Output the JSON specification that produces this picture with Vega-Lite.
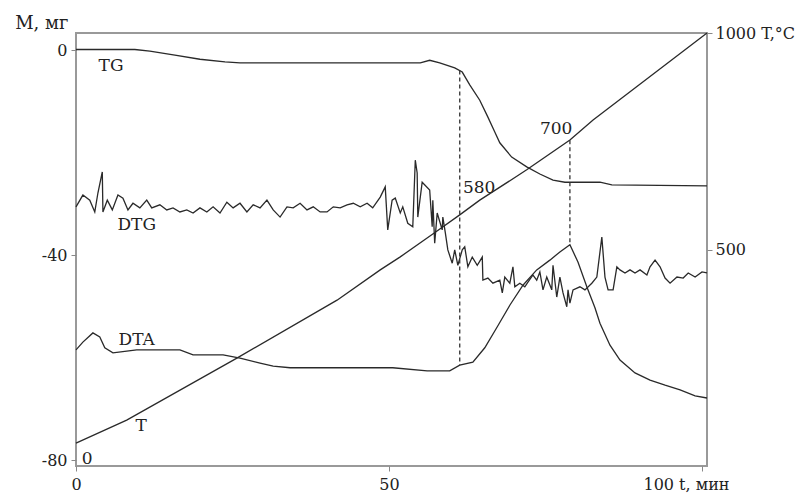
{
  "$schema": "https://vega.github.io/schema/vega-lite/v6.json",
  "autosize": "none",
  "width": 631,
  "height": 433,
  "padding": {"left": 76, "top": 33, "right": 100, "bottom": 29},
  "background": "white",
  "config": {
    "view": {"stroke": "#999", "strokeWidth": 2},
    "axis": {"grid": false, "domain": false, "labelFont": "DejaVu Serif", "labelFontSize": 16, "labelColor": "#222", "tickColor": "#888", "tickSize": 5, "labelFlush": false, "titleFont": "DejaVu Serif", "titleFontSize": 18, "titleFontWeight": "normal", "titleColor": "#222"}
  },
  "datasets": {
    "mass": [
      {"s": "TG", "t": 0, "m": 0.1}, {"s": "TG", "t": 9.4, "m": 0.1}, {"s": "TG", "t": 11.8, "m": -0.2}, {"s": "TG", "t": 15.8, "m": -1.0}, {"s": "TG", "t": 19.8, "m": -1.8}, {"s": "TG", "t": 23.8, "m": -2.3}, {"s": "TG", "t": 26.2, "m": -2.5}, {"s": "TG", "t": 55.0, "m": -2.5}, {"s": "TG", "t": 56.5, "m": -2.0}, {"s": "TG", "t": 58.1, "m": -2.5}, {"s": "TG", "t": 60.5, "m": -3.5}, {"s": "TG", "t": 61.7, "m": -4.3}, {"s": "TG", "t": 62.9, "m": -6.8}, {"s": "TG", "t": 64.5, "m": -9.8}, {"s": "TG", "t": 65.8, "m": -13.1}, {"s": "TG", "t": 66.9, "m": -16.0}, {"s": "TG", "t": 67.7, "m": -18.1}, {"s": "TG", "t": 69.6, "m": -20.9}, {"s": "TG", "t": 72.0, "m": -22.8}, {"s": "TG", "t": 74.1, "m": -24.2}, {"s": "TG", "t": 76.2, "m": -25.4}, {"s": "TG", "t": 78.1, "m": -25.8}, {"s": "TG", "t": 83.7, "m": -25.8}, {"s": "TG", "t": 85.6, "m": -26.3}, {"s": "TG", "t": 100.8, "m": -26.5},

      {"s": "DTG", "t": 0, "m": -30.6}, {"s": "DTG", "t": 1.1, "m": -28.3}, {"s": "DTG", "t": 2.2, "m": -29.3}, {"s": "DTG", "t": 3.0, "m": -31.6}, {"s": "DTG", "t": 3.5, "m": -27.9}, {"s": "DTG", "t": 4.2, "m": -23.8}, {"s": "DTG", "t": 4.3, "m": -31.6}, {"s": "DTG", "t": 5.0, "m": -29.3}, {"s": "DTG", "t": 5.8, "m": -31.2}, {"s": "DTG", "t": 6.7, "m": -28.3}, {"s": "DTG", "t": 7.5, "m": -28.9}, {"s": "DTG", "t": 8.3, "m": -31.2}, {"s": "DTG", "t": 9.1, "m": -29.9}, {"s": "DTG", "t": 10.2, "m": -30.8}, {"s": "DTG", "t": 11.3, "m": -29.3}, {"s": "DTG", "t": 12.1, "m": -30.8}, {"s": "DTG", "t": 13.4, "m": -30.2}, {"s": "DTG", "t": 14.5, "m": -31.2}, {"s": "DTG", "t": 15.5, "m": -30.8}, {"s": "DTG", "t": 16.6, "m": -31.6}, {"s": "DTG", "t": 17.7, "m": -31.2}, {"s": "DTG", "t": 18.7, "m": -31.8}, {"s": "DTG", "t": 19.8, "m": -30.8}, {"s": "DTG", "t": 20.9, "m": -31.6}, {"s": "DTG", "t": 21.9, "m": -30.6}, {"s": "DTG", "t": 23.0, "m": -31.8}, {"s": "DTG", "t": 24.1, "m": -29.7}, {"s": "DTG", "t": 25.1, "m": -30.8}, {"s": "DTG", "t": 26.2, "m": -29.9}, {"s": "DTG", "t": 27.3, "m": -31.6}, {"s": "DTG", "t": 28.3, "m": -30.2}, {"s": "DTG", "t": 29.4, "m": -30.8}, {"s": "DTG", "t": 30.5, "m": -29.3}, {"s": "DTG", "t": 31.5, "m": -31.2}, {"s": "DTG", "t": 32.6, "m": -32.6}, {"s": "DTG", "t": 33.7, "m": -30.6}, {"s": "DTG", "t": 34.7, "m": -30.8}, {"s": "DTG", "t": 35.8, "m": -29.9}, {"s": "DTG", "t": 36.9, "m": -31.2}, {"s": "DTG", "t": 37.9, "m": -30.6}, {"s": "DTG", "t": 39.0, "m": -31.6}, {"s": "DTG", "t": 40.1, "m": -31.6}, {"s": "DTG", "t": 41.1, "m": -30.6}, {"s": "DTG", "t": 42.2, "m": -30.8}, {"s": "DTG", "t": 43.3, "m": -30.2}, {"s": "DTG", "t": 44.3, "m": -29.9}, {"s": "DTG", "t": 45.4, "m": -30.6}, {"s": "DTG", "t": 46.5, "m": -29.9}, {"s": "DTG", "t": 47.4, "m": -30.8}, {"s": "DTG", "t": 48.6, "m": -28.7}, {"s": "DTG", "t": 49.4, "m": -26.7}, {"s": "DTG", "t": 49.8, "m": -35.1}, {"s": "DTG", "t": 50.5, "m": -29.3}, {"s": "DTG", "t": 51.0, "m": -28.9}, {"s": "DTG", "t": 51.8, "m": -31.8}, {"s": "DTG", "t": 52.2, "m": -30.6}, {"s": "DTG", "t": 53.0, "m": -33.8}, {"s": "DTG", "t": 53.8, "m": -34.5}, {"s": "DTG", "t": 54.2, "m": -21.5}, {"s": "DTG", "t": 54.5, "m": -24.0}, {"s": "DTG", "t": 54.6, "m": -32.6}, {"s": "DTG", "t": 55.3, "m": -25.8}, {"s": "DTG", "t": 56.5, "m": -27.3}, {"s": "DTG", "t": 56.9, "m": -34.5}, {"s": "DTG", "t": 57.0, "m": -29.3}, {"s": "DTG", "t": 57.3, "m": -37.7}, {"s": "DTG", "t": 57.7, "m": -31.8}, {"s": "DTG", "t": 58.5, "m": -35.1}, {"s": "DTG", "t": 58.6, "m": -32.6}, {"s": "DTG", "t": 59.0, "m": -35.7}, {"s": "DTG", "t": 59.4, "m": -39.0}, {"s": "DTG", "t": 60.1, "m": -41.6}, {"s": "DTG", "t": 60.5, "m": -39.0}, {"s": "DTG", "t": 61.0, "m": -42.0}, {"s": "DTG", "t": 61.7, "m": -39.0}, {"s": "DTG", "t": 62.1, "m": -38.4}, {"s": "DTG", "t": 62.6, "m": -42.3}, {"s": "DTG", "t": 63.3, "m": -40.4}, {"s": "DTG", "t": 64.1, "m": -42.0}, {"s": "DTG", "t": 64.9, "m": -40.4}, {"s": "DTG", "t": 65.0, "m": -44.9}, {"s": "DTG", "t": 65.8, "m": -44.5}, {"s": "DTG", "t": 66.6, "m": -45.5}, {"s": "DTG", "t": 67.7, "m": -44.9}, {"s": "DTG", "t": 68.1, "m": -47.4}, {"s": "DTG", "t": 68.5, "m": -44.3}, {"s": "DTG", "t": 69.3, "m": -45.5}, {"s": "DTG", "t": 69.8, "m": -42.3}, {"s": "DTG", "t": 70.1, "m": -46.2}, {"s": "DTG", "t": 70.9, "m": -45.5}, {"s": "DTG", "t": 71.7, "m": -46.2}, {"s": "DTG", "t": 72.2, "m": -45.3}, {"s": "DTG", "t": 73.0, "m": -43.9}, {"s": "DTG", "t": 73.6, "m": -44.9}, {"s": "DTG", "t": 74.1, "m": -43.3}, {"s": "DTG", "t": 74.6, "m": -46.8}, {"s": "DTG", "t": 75.2, "m": -44.3}, {"s": "DTG", "t": 76.0, "m": -46.8}, {"s": "DTG", "t": 76.2, "m": -42.0}, {"s": "DTG", "t": 76.8, "m": -48.2}, {"s": "DTG", "t": 77.3, "m": -44.3}, {"s": "DTG", "t": 77.8, "m": -47.4}, {"s": "DTG", "t": 78.4, "m": -50.1}, {"s": "DTG", "t": 78.6, "m": -46.8}, {"s": "DTG", "t": 78.9, "m": -49.4}, {"s": "DTG", "t": 79.4, "m": -46.8}, {"s": "DTG", "t": 80.5, "m": -46.2}, {"s": "DTG", "t": 81.3, "m": -46.8}, {"s": "DTG", "t": 82.4, "m": -45.5}, {"s": "DTG", "t": 83.2, "m": -44.3}, {"s": "DTG", "t": 84.0, "m": -36.5}, {"s": "DTG", "t": 84.5, "m": -44.3}, {"s": "DTG", "t": 85.0, "m": -46.8}, {"s": "DTG", "t": 85.8, "m": -46.8}, {"s": "DTG", "t": 86.4, "m": -42.3}, {"s": "DTG", "t": 86.9, "m": -42.9}, {"s": "DTG", "t": 87.7, "m": -43.5}, {"s": "DTG", "t": 88.5, "m": -42.9}, {"s": "DTG", "t": 89.3, "m": -43.5}, {"s": "DTG", "t": 90.1, "m": -42.9}, {"s": "DTG", "t": 91.2, "m": -43.9}, {"s": "DTG", "t": 91.7, "m": -42.3}, {"s": "DTG", "t": 92.5, "m": -41.0}, {"s": "DTG", "t": 93.3, "m": -42.3}, {"s": "DTG", "t": 94.1, "m": -44.5}, {"s": "DTG", "t": 94.9, "m": -45.5}, {"s": "DTG", "t": 96.0, "m": -44.3}, {"s": "DTG", "t": 97.0, "m": -44.5}, {"s": "DTG", "t": 97.8, "m": -43.5}, {"s": "DTG", "t": 98.9, "m": -44.3}, {"s": "DTG", "t": 100.0, "m": -43.3}, {"s": "DTG", "t": 100.8, "m": -43.5},

      {"s": "DTA", "t": 0, "m": -58.5}, {"s": "DTA", "t": 1.1, "m": -57.0}, {"s": "DTA", "t": 2.7, "m": -55.2}, {"s": "DTA", "t": 3.8, "m": -56.0}, {"s": "DTA", "t": 4.6, "m": -58.1}, {"s": "DTA", "t": 5.9, "m": -59.1}, {"s": "DTA", "t": 9.7, "m": -58.5}, {"s": "DTA", "t": 16.6, "m": -58.5}, {"s": "DTA", "t": 18.7, "m": -59.5}, {"s": "DTA", "t": 23.5, "m": -59.5}, {"s": "DTA", "t": 26.2, "m": -60.1}, {"s": "DTA", "t": 29.4, "m": -61.1}, {"s": "DTA", "t": 31.5, "m": -61.7}, {"s": "DTA", "t": 34.2, "m": -62.0}, {"s": "DTA", "t": 50.6, "m": -62.0}, {"s": "DTA", "t": 56.1, "m": -62.6}, {"s": "DTA", "t": 59.7, "m": -62.6}, {"s": "DTA", "t": 61.3, "m": -61.5}, {"s": "DTA", "t": 63.4, "m": -60.9}, {"s": "DTA", "t": 65.3, "m": -58.1}, {"s": "DTA", "t": 67.3, "m": -54.0}, {"s": "DTA", "t": 69.3, "m": -49.8}, {"s": "DTA", "t": 71.4, "m": -45.9}, {"s": "DTA", "t": 73.6, "m": -42.9}, {"s": "DTA", "t": 75.7, "m": -41.0}, {"s": "DTA", "t": 77.3, "m": -39.4}, {"s": "DTA", "t": 78.9, "m": -38.0}, {"s": "DTA", "t": 80.2, "m": -41.4}, {"s": "DTA", "t": 81.6, "m": -46.2}, {"s": "DTA", "t": 82.9, "m": -50.3}, {"s": "DTA", "t": 83.7, "m": -53.3}, {"s": "DTA", "t": 85.3, "m": -57.6}, {"s": "DTA", "t": 86.9, "m": -60.5}, {"s": "DTA", "t": 89.3, "m": -63.0}, {"s": "DTA", "t": 91.7, "m": -64.4}, {"s": "DTA", "t": 94.1, "m": -65.4}, {"s": "DTA", "t": 96.5, "m": -66.3}, {"s": "DTA", "t": 98.9, "m": -67.5}, {"s": "DTA", "t": 100.8, "m": -67.9}
    ],
    "temp": [
      {"t": 0, "T": 53}, {"t": 8.1, "T": 106}, {"t": 25.7, "T": 249}, {"t": 41.7, "T": 383}, {"t": 48.6, "T": 453}, {"t": 51.8, "T": 483}, {"t": 57.0, "T": 536}, {"t": 61.3, "T": 580}, {"t": 64.5, "T": 614}, {"t": 72.0, "T": 684}, {"t": 78.9, "T": 753}, {"t": 82.6, "T": 799}, {"t": 100.8, "T": 1000}
    ],
    "guides": [
      {"t": 61.3, "top": -4.0, "bottom": -61.5},
      {"t": 78.9, "top": -17.6, "bottom": -38.0}
    ],
    "labels": [
      {"t": 5.6, "m": -3.1, "text": "TG"},
      {"t": 9.7, "m": -34.1, "text": "DTG"},
      {"t": 9.7, "m": -56.6, "text": "DTA"},
      {"t": 10.4, "m": -73.4, "text": "T"},
      {"t": 64.4, "m": -26.9, "text": "580"},
      {"t": 76.7, "m": -15.4, "text": "700"},
      {"t": 1.8, "m": -79.8, "text": "0"}
    ]
  },
  "layer": [
    {
      "layer": [
        {
          "data": {"name": "mass"},
          "mark": {"type": "line", "color": "#2a2a2a", "strokeWidth": 1.3},
          "encoding": {
            "x": {"field": "t", "type": "quantitative", "scale": {"domain": [0, 100.8], "nice": false, "zero": false},
              "axis": {"values": [0, 50, 100], "labelPadding": 5, "labelExpr": "datum.value == 100 ? '100 t,  мин' : datum.label", "labelOffset": {"condition": {"test": "datum.value == 100", "value": -16}, "value": 0}, "title": null}},
            "y": {"field": "m", "type": "quantitative", "scale": {"domain": [-81.17, 3.32], "nice": false, "zero": false},
              "axis": {"values": [0, -40, -80], "labelPadding": 4, "labelExpr": "'' + datum.value", "title": "M, мг", "titleAngle": 0, "titleAlign": "right", "titleBaseline": "bottom", "titleX": -8, "titleY": -1}},
            "detail": {"field": "s"},
            "order": {"field": "t", "type": "quantitative"}
          }
        },
        {
          "data": {"name": "guides"},
          "mark": {"type": "rule", "color": "#333", "strokeWidth": 1.3, "strokeDash": [4, 3]},
          "encoding": {
            "x": {"field": "t", "type": "quantitative"},
            "y": {"field": "top", "type": "quantitative"},
            "y2": {"field": "bottom"}
          }
        },
        {
          "data": {"name": "labels"},
          "mark": {"type": "text", "font": "DejaVu Serif", "fontSize": 17, "color": "#222", "align": "center", "baseline": "middle"},
          "encoding": {
            "x": {"field": "t", "type": "quantitative"},
            "y": {"field": "m", "type": "quantitative"},
            "text": {"field": "text"}
          }
        }
      ]
    },
    {
      "data": {"name": "temp"},
      "mark": {"type": "line", "color": "#2a2a2a", "strokeWidth": 1.3},
      "encoding": {
        "x": {"field": "t", "type": "quantitative"},
        "y": {"field": "T", "type": "quantitative", "scale": {"domain": [0, 1000], "nice": false, "zero": false},
          "axis": {"orient": "right", "values": [500, 1000], "labelPadding": 3, "labelExpr": "datum.value == 1000 ? '1000 T,°C' : datum.label", "title": null}},
        "order": {"field": "t", "type": "quantitative"}
      }
    }
  ],
  "resolve": {"scale": {"y": "independent"}, "axis": {"y": "independent"}}
}
